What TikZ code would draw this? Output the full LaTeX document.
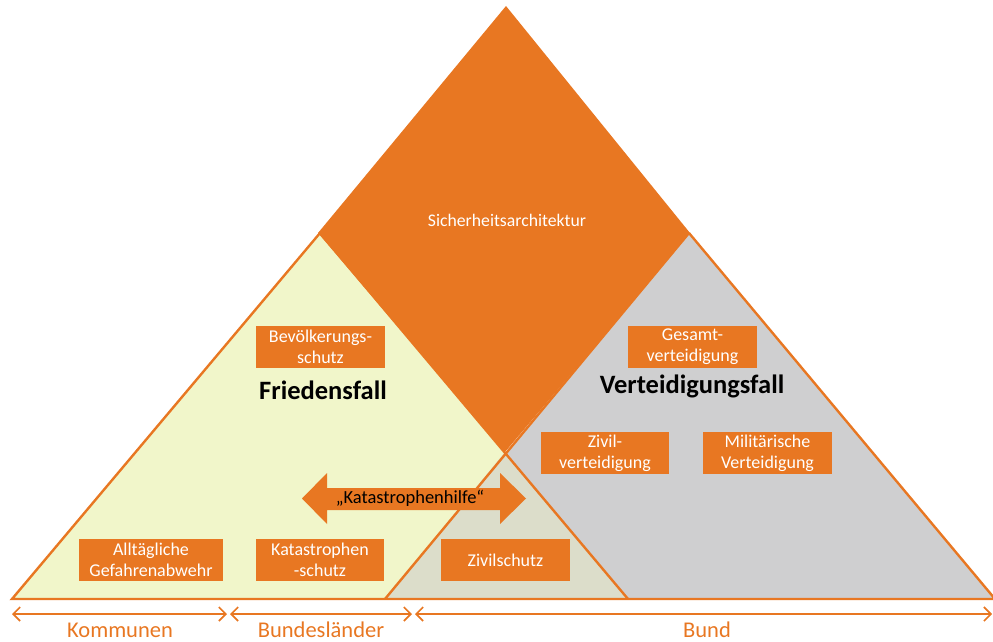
\documentclass[tikz,border=0pt]{standalone}
\usepackage{fontspec}
\setmainfont{Carlito}
\usetikzlibrary{arrows.meta}
\definecolor{oran}{HTML}{E87722}
\definecolor{yel}{HTML}{F1F6CA}
\definecolor{gry}{HTML}{CFCFD0}
\definecolor{ovl}{HTML}{DCDDCA}
\tikzset{
  obox/.style={fill=oran, text=white, align=center, inner sep=0pt, minimum width=129pt, minimum height=42pt, font=\fontsize{18}{21}\selectfont},
  biglabel/.style={text=black, font=\bfseries\fontsize{26.5}{30}\selectfont, inner sep=0pt},
  botlabel/.style={text=oran, font=\fontsize{22.5}{26}\selectfont, inner sep=0pt, anchor=base},
  outline/.style={draw=oran, line width=2.4pt, line join=miter},
  barrow/.style={draw=oran, line width=1.6pt, {Straight Barb[length=7pt,width=14pt]}-{Straight Barb[length=7pt,width=14pt]}}
}
\begin{document}
\begin{tikzpicture}[x=1pt,y=-1pt]
\useasboundingbox (0,0) rectangle (993,642);
% key points
\coordinate (top) at (506,6);
\coordinate (dl) at (318,233);
\coordinate (dr) at (690,233);
\coordinate (db) at (505,452);
\coordinate (ya) at (320,233);
\coordinate (yl) at (12,599);
\coordinate (yr) at (628,599);
\coordinate (ga) at (689,233);
\coordinate (gl) at (385,599);
\coordinate (gr) at (995,599);
% yellow and gray triangles
\fill[yel] (ya) -- (yl) -- (yr) -- cycle;
\fill[gry] (ga) -- (gl) -- (gr) -- cycle;
\fill[ovl] (db) -- (gl) -- (yr) -- cycle;
% orange diamond
\fill[oran] (top) -- (dl) -- (db) -- (dr) -- cycle;
% outlines
\draw[outline] (ya) -- (yl) -- (gr) -- (ga);
\draw[outline] (ya) -- (yr);
\draw[outline] (ga) -- (gl);
% central label
\node[text=white, font=\fontsize{17.7}{20}\selectfont, inner sep=0pt] (sa) at (507,220) {Sicherheitsarchitektur};
% boxes
\node[obox] (bev) at (320.5,347) {Bevölkerungs-\\schutz};
\node[obox] (ges) at (692.5,347) {Gesamt-\\verteidigung};
\node[obox, minimum width=128pt] (ziv) at (605,453) {Zivil-\\verteidigung};
\node[obox] (mil) at (767.5,453) {Militärische\\Verteidigung};
\node[obox, minimum width=144pt] (all) at (151,560) {Alltägliche\\Gefahrenabwehr};
\node[obox, minimum width=128pt] (kat) at (320,560) {Katastrophen\\-schutz};
\node[obox] (zs) at (505.5,560) {Zivilschutz};
% big labels
\node[biglabel] (ff) at (323,390) {Friedensfall};
\node[biglabel] (vf) at (692,386) {Verteidigungsfall};
% Katastrophenhilfe arrow
\fill[oran] (302,498.5) -- (327,473) -- (327,488) -- (500,488) -- (500,473) -- (526,498.5) -- (500,524) -- (500,510) -- (327,510) -- (327,524) -- cycle;
\node[text=black, font=\fontsize{18.5}{20}\selectfont, inner sep=0pt] (kh) at (410,498) {„Katastrophenhilfe“};
% bottom arrows
\coordinate (b0) at (12,614);
\coordinate (b1) at (227,614);
\coordinate (b2) at (230,614);
\coordinate (b3) at (412,614);
\coordinate (b4) at (415,614);
\coordinate (b5) at (992,614);
\draw[barrow] (b0) -- (b1);
\draw[barrow] (b2) -- (b3);
\draw[barrow] (b4) -- (b5);
\node[botlabel] (kom) at (120,637.5) {Kommunen};
\node[botlabel] (bl) at (321,637.5) {Bundesländer};
\node[botlabel] (bund) at (707,637.5) {Bund};
\end{tikzpicture}
\end{document}
